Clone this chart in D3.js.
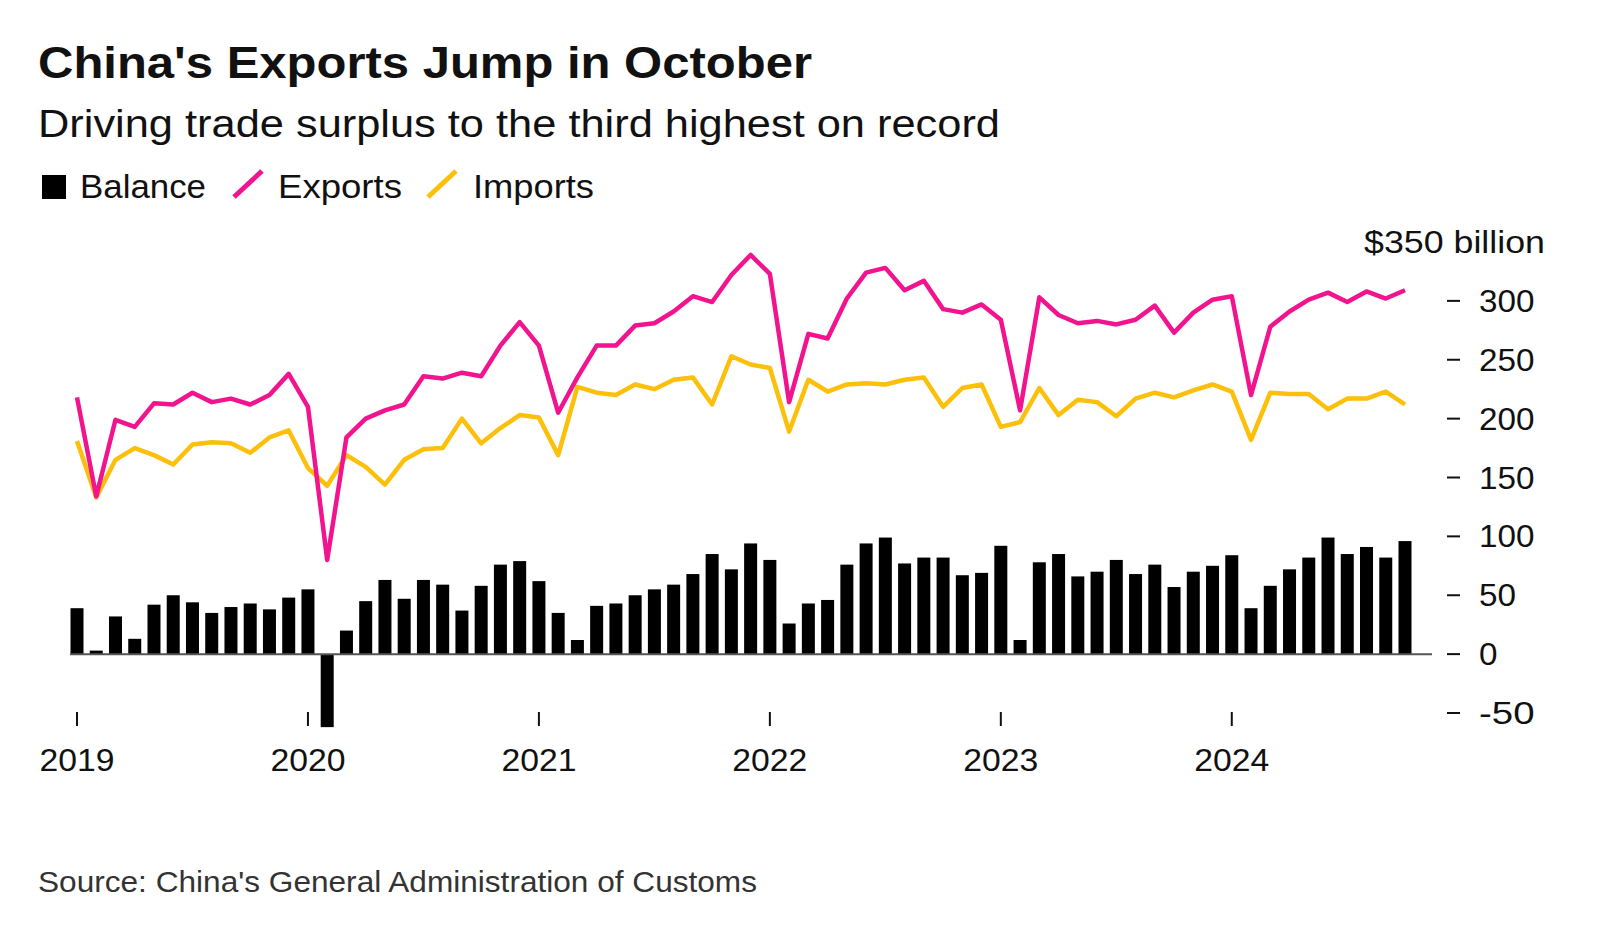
<!DOCTYPE html>
<html><head><meta charset="utf-8">
<script src="https://cdn.jsdelivr.net/npm/d3@7"></script>
<style>body{margin:0;background:#fff}svg{display:block;font-family:"Liberation Sans",Arial,sans-serif}</style>
</head><body><svg id="c" width="1600" height="936"></svg>
<script>
const years = ["2019","2020","2021","2022","2023","2024"];
const exportsData = [218,134,199,193,213,212,222,214,217,212,220,238,
 210,80,184,200,207,212,236,234,239,236,262,282,
 262,205,235,262,262,279,281,291,304,299,322,339,
 323,214,272,268,302,324,328,309,317,293,290,297,
 284,207,303,288,281,283,280,284,296,273,290,301,
 304,220,278,291,301,307,299,308,302,309];
const importsData = [181,133,165,175,169,161,178,180,179,171,184,190,
 158,143,169,159,144,165,174,175,200,179,192,203,
 201,169,227,222,220,229,225,233,235,212,253,246,
 243,189,233,223,229,230,229,233,235,210,226,229,
 193,197,226,203,216,214,202,217,222,218,224,229,
 223,182,222,221,221,208,217,217,223,212];
const balanceData = [39,3,32,13,42,50,44,35,40,43,38,48,
 55,-62,20,45,63,47,63,59,37,58,76,79,
 62,35,12,41,43,50,55,59,68,85,72,94,
 80,26,43,46,76,94,99,77,82,82,67,69,
 92,12,78,85,66,70,80,68,76,57,70,75,
 84,39,58,72,82,99,85,91,82,96];
const yTicks = [-50,0,50,100,150,200,250,300];

const svg = d3.select("#c");
const x = d3.scaleLinear().domain([0,69]).range([77,1405]);
const y = d3.scaleLinear().domain([-50,350]).range([713,242]);
const pink="#f2148f", gold="#fcbf0a";
function txt(g,xx,yy,s,w,size,extra){
  const t=g.append("text").attr("x",xx).attr("y",yy).attr("font-size",size).text(s);
  if(w) t.attr("textLength",w).attr("lengthAdjust","spacingAndGlyphs");
  return t;
}
txt(svg,38,78,"China's Exports Jump in October",774,45).attr("font-weight","bold").attr("fill","#111");
txt(svg,38,137,"Driving trade surplus to the third highest on record",962,38).attr("fill","#111");
const lg = svg.append("g").attr("fill","#111");
lg.append("rect").attr("x",42).attr("y",175).attr("width",24).attr("height",24).attr("fill","#000");
txt(lg,80,198,"Balance",126,33);
lg.append("line").attr("x1",234).attr("y1",197).attr("x2",262).attr("y2",171).attr("stroke",pink).attr("stroke-width",5);
txt(lg,278,198,"Exports",124,33);
lg.append("line").attr("x1",428).attr("y1",197).attr("x2",456).attr("y2",171).attr("stroke",gold).attr("stroke-width",5);
txt(lg,473,198,"Imports",121,33);

// bars
svg.append("g").selectAll("rect").data(balanceData).join("rect")
 .attr("x",(d,i)=>x(i)-6.5).attr("width",13)
 .attr("y",d=>y(Math.max(0,d))).attr("height",d=>Math.abs(y(d)-y(0))).attr("fill","#000");
svg.append("line").attr("x1",70).attr("x2",1432).attr("y1",y(0)).attr("y2",y(0)).attr("stroke","#555").attr("stroke-width",2);

const line = d3.line().x((d,i)=>x(i)).y(d=>y(d));
svg.append("path").attr("d",line(importsData)).attr("fill","none").attr("stroke",gold).attr("stroke-width",4.5).attr("stroke-linejoin","round");
svg.append("path").attr("d",line(exportsData)).attr("fill","none").attr("stroke",pink).attr("stroke-width",4.5).attr("stroke-linejoin","round");

// y axis
const ya = svg.append("g").attr("fill","#111");
yTicks.forEach(t=>{
  ya.append("line").attr("x1",1447).attr("x2",1460).attr("y1",y(t)).attr("y2",y(t)).attr("stroke","#111").attr("stroke-width",2);
  const s=String(t);
  txt(ya,1479,y(t)+11,s,s.length*18.5,32);
});
txt(ya,1364,y(350)+11,"$350 billion",181,32);

// x axis
const xa = svg.append("g").attr("fill","#111");
years.forEach((yr,k)=>{
  const xx = x(k*12);
  xa.append("line").attr("x1",xx).attr("x2",xx).attr("y1",712).attr("y2",726).attr("stroke","#111").attr("stroke-width",2);
  txt(xa,xx-37.5,771,yr,75,32);
});

txt(svg,38,892,"Source: China's General Administration of Customs",719,30).attr("fill","#333");
</script></body></html>
